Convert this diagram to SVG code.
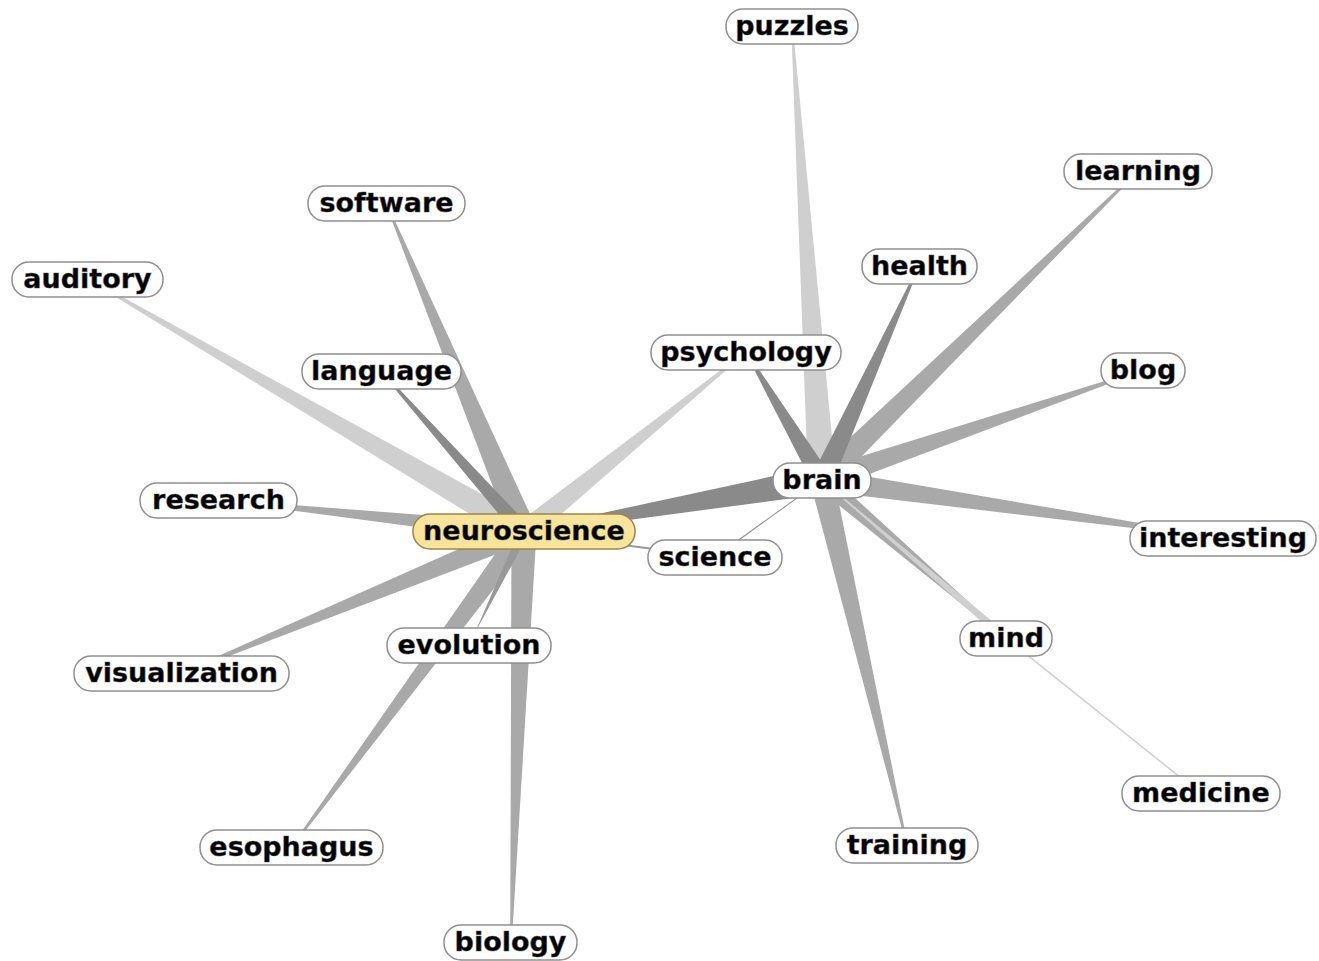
<svg xmlns="http://www.w3.org/2000/svg" width="1319" height="961" viewBox="0 0 1319 961">
<style>
.lt{fill:#cfcfcf}
.md{fill:#a9a9a9}
.dk{fill:#8a8a8a}
.pill{fill:#ffffff;stroke:#8f8f8f;stroke-width:1.5}
.hub{fill:#f9e49b;stroke:#9a8550;stroke-width:1.5}
text{font-family:"DejaVu Sans","Verdana",sans-serif;font-weight:bold;font-size:27px;fill:#000;stroke:#555;stroke-width:0.5;text-anchor:middle}
</style>
<rect width="1319" height="961" fill="#ffffff"/>
<g id="connectors">
  <!-- light -->
  <polygon class="lt" points="530.5,520.8 88.4,278.3 87.6,279.7 517.5,543.2"/>
  <polygon class="lt" points="530.9,540.5 746.5,352.6 745.5,351.4 517.1,523.5"/>
  <polygon class="lt" points="836,479.1 792.8,25.9 791.2,26.1 808,480.9"/>
  <line x1="1006" y1="638" x2="1201" y2="794" stroke="#cfcfcf" stroke-width="1.5"/>
  <!-- medium -->
  <polygon class="md" points="536,527 386.7,202.7 385.3,203.3 512,537"/>
  <polygon class="md" points="525,523 219.1,499.2 218.9,500.8 523,541"/>
  <polygon class="md" points="519.8,521.8 181.7,672.3 182.3,673.7 528.2,542.2"/>
  <polygon class="md" points="515.1,525.5 290.4,847.5 291.6,848.5 532.9,538.5"/>
  <polygon class="md" points="511.5,531.6 510.2,942 511.8,942 536.5,532.4"/>
  <polygon class="md" points="830.4,488.6 1138.6,171.6 1137.4,170.4 813.6,471.4"/>
  <polygon class="md" points="825.6,490.4 1143.3,370.8 1142.7,369.2 818.4,469.6"/>
  <polygon class="md" points="820.4,490.9 1222.9,538.8 1223.1,537.2 823.6,469.1"/>
  <polygon class="md" points="816.1,486.8 1005,639.1 1007,636.9 827.9,473.2"/>
  <polygon class="lt" points="1003.4,641 821.7,480.4 822.3,479.6 1008.6,635"/>
  <polygon class="md" points="810.3,482.7 906.2,845.2 907.8,844.8 833.7,477.3"/>
  <line x1="524" y1="532" x2="715" y2="557" stroke="#9a9a9a" stroke-width="2"/>
  <!-- dark -->
  <polygon fill="#999999" points="519.5,529.8 469.5,645.3 468.5,644.7 528.5,534.2"/>
  <polygon class="dk" points="530,526.7 381.6,370.5 380.4,371.5 518,537.3"/>
  <polygon class="dk" points="832,484.5 919.7,266.3 918.3,265.7 812,475.5"/>
  <polygon class="dk" points="830.6,474.9 746.7,351.6 745.3,352.4 813.4,485.1"/>
  <polygon fill="#939393" points="824,478 714.6,556.5 715.4,557.5 820,482"/>
  <polygon class="dk" points="819.6,466.2 523.7,530 524.3,534 824.4,493.8"/>
</g>
<g id="node-puzzles"><rect class="pill" x="726" y="9" width="132" height="35" rx="17"/><text x="792" y="35">puzzles</text></g>
<g id="node-learning"><rect class="pill" x="1064" y="154" width="148" height="35" rx="17"/><text x="1138" y="180">learning</text></g>
<g id="node-software"><rect class="pill" x="308" y="186" width="157" height="35" rx="17"/><text x="386.5" y="212">software</text></g>
<g id="node-auditory"><rect class="pill" x="12" y="262" width="151" height="35" rx="17"/><text x="87.5" y="288">auditory</text></g>
<g id="node-health"><rect class="pill" x="862" y="249" width="115" height="35" rx="17"/><text x="919.5" y="275">health</text></g>
<g id="node-psychology"><rect class="pill" x="651" y="335" width="190" height="35" rx="17"/><text x="746" y="361">psychology</text></g>
<g id="node-language"><rect class="pill" x="302" y="354" width="159" height="35" rx="17"/><text x="381.5" y="380">language</text></g>
<g id="node-blog"><rect class="pill" x="1101" y="353" width="84" height="35" rx="17"/><text x="1143" y="379">blog</text></g>
<g id="node-brain"><rect class="pill" x="773" y="463" width="98" height="35" rx="17"/><text x="822" y="489">brain</text></g>
<g id="node-research"><rect class="pill" x="140" y="483" width="157" height="35" rx="17"/><text x="218.5" y="509">research</text></g>
<g id="node-neuroscience"><rect class="hub" x="413" y="514" width="222" height="35" rx="17"/><text x="524" y="540">neuroscience</text></g>
<g id="node-science"><rect class="pill" x="648" y="540" width="134" height="35" rx="17"/><text x="715" y="566">science</text></g>
<g id="node-interesting"><rect class="pill" x="1130" y="521" width="186" height="35" rx="17"/><text x="1223" y="547">interesting</text></g>
<g id="node-evolution"><rect class="pill" x="387" y="628" width="164" height="35" rx="17"/><text x="469" y="654">evolution</text></g>
<g id="node-mind"><rect class="pill" x="960" y="621" width="92" height="35" rx="17"/><text x="1006" y="647">mind</text></g>
<g id="node-visualization"><rect class="pill" x="74" y="656" width="215" height="35" rx="17"/><text x="181.5" y="682">visualization</text></g>
<g id="node-medicine"><rect class="pill" x="1122" y="776" width="158" height="35" rx="17"/><text x="1201" y="802">medicine</text></g>
<g id="node-training"><rect class="pill" x="836" y="828" width="142" height="35" rx="17"/><text x="907" y="854">training</text></g>
<g id="node-esophagus"><rect class="pill" x="200" y="830" width="183" height="35" rx="17"/><text x="291.5" y="856">esophagus</text></g>
<g id="node-biology"><rect class="pill" x="444" y="925" width="133" height="35" rx="17"/><text x="510.5" y="951">biology</text></g>
</svg>
